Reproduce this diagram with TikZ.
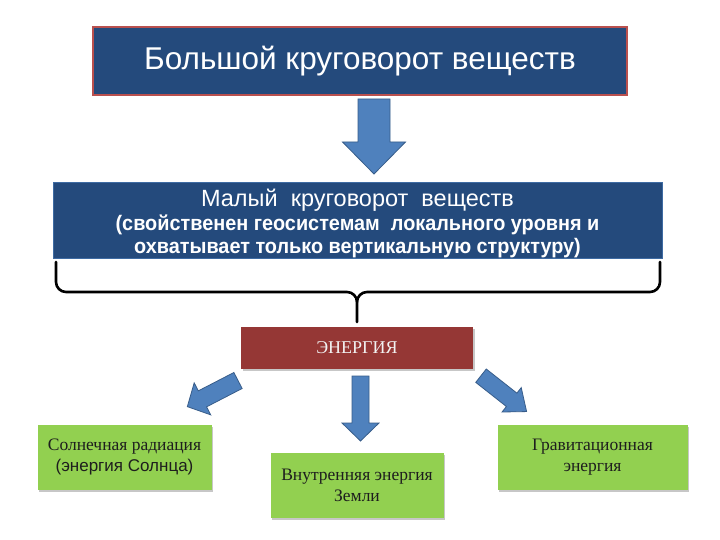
\documentclass[tikz,border=0pt]{standalone}
\usepackage{fontspec}
\setmainfont{Liberation Serif}
\setsansfont{Liberation Sans}
\usetikzlibrary{shadows}
\definecolor{boxblue}{HTML}{244A7C}
\definecolor{boxred}{HTML}{953735}
\definecolor{boxgreen}{HTML}{92D050}
\definecolor{arrowblue}{HTML}{4F81BD}
\definecolor{arrowedge}{HTML}{385D8A}
\definecolor{titleedge}{HTML}{B9504E}
\definecolor{textdark}{HTML}{1E1E1E}
\newcommand\blockarrow[7]{%
  \begin{scope}[shift={(#1,#2)}, rotate=#3]
    \draw[blockarr] (0,-#6) -- (#4-#5,-#6) -- (#4-#5,-#7) -- (#4,0)
      -- (#4-#5,#7) -- (#4-#5,#6) -- (0,#6) -- cycle;
  \end{scope}}
\tikzset{
  bluebox/.style={rectangle, fill=boxblue, inner sep=0pt},
  energybox/.style={rectangle, fill=boxred, inner sep=0pt, text=white!95!black,
    font=\fontsize{18}{20}\selectfont,
    drop shadow={shadow xshift=1.5pt, shadow yshift=-2pt, fill=black, opacity=0.22}},
  greenbox/.style={rectangle, fill=boxgreen, inner sep=0pt, align=center, text=textdark,
    font=\fontsize{17.5}{21}\selectfont,
    drop shadow={shadow xshift=1.5pt, shadow yshift=-2pt, fill=black, opacity=0.22}},
  blockarr/.style={fill=arrowblue, draw=arrowedge, line width=0.8pt, line join=miter},
  braceline/.style={draw=black, line width=2.6pt, line cap=round, line join=round},
  whitetext/.style={text=white, inner sep=0pt, anchor=base},
  boldline/.style={whitetext, xscale=0.945, font=\sffamily\bfseries\fontsize{21}{24}\selectfont}
}
\begin{document}
\begin{tikzpicture}[x=1pt,y=-1pt]
\useasboundingbox (0,0) rectangle (720,540);
\fill[white] (0,0) rectangle (720,540);

% top box
\node[bluebox, draw=titleedge, line width=1.2pt, minimum width=534pt, minimum height=68pt,
  text=white, font=\sffamily\fontsize{31.5}{36}\selectfont] (big) at (360,61) {Большой круговорот веществ};

% big arrow
\blockarrow{374}{99}{-90}{75}{32}{16}{31.5}

% second box
\node[bluebox, draw=arrowblue!60!boxblue, line width=0.8pt, minimum width=609pt, minimum height=76pt] (small) at (357.5,220) {};
\node[whitetext, font=\sffamily\fontsize{23.5}{26}\selectfont] (smallA) at (357.5,207) {Малый~~круговорот~~веществ};
\node[boldline] (smallB) at (357.5,230) {(свойственен геосистемам~~локального уровня и};
\node[boldline] (smallC) at (357.5,253) {охватывает только вертикальную структуру)};

% brace
\draw[braceline] (56,262) -- (56,282) arc[start angle=180, end angle=90, radius=10] -- (347,292)
  to[out=0,in=90] (357,302) -- (357,322);
\draw[braceline] (660,262) -- (660,282) arc[start angle=0, end angle=90, radius=10] -- (367,292)
  to[out=180,in=90] (357,302);

% energy
\node[energybox, minimum width=232pt, minimum height=42pt] (energy) at (357,348) {ЭНЕРГИЯ};

% arrows to sources
\blockarrow{238}{380.5}{-152.7}{57}{17}{9}{18}
\blockarrow{360.5}{376}{-90}{65}{18}{8.5}{18.5}
\blockarrow{481}{375.7}{-38.2}{58}{19}{8.5}{15.5}

% green boxes
\node[greenbox, minimum width=174pt, minimum height=65pt] (sun) at (124.5,457)
  {Солнечная радиация\\{\sffamily\fontsize{17}{21}\selectfont (энергия Солнца)}};
\node[greenbox, minimum width=173pt, minimum height=65pt] (inner) at (357,485)
  {Внутренняя энергия\\Земли};
\node[greenbox, minimum width=190pt, minimum height=65pt] (grav) at (592.5,457)
  {Гравитационная\\энергия};
\end{tikzpicture}
\end{document}
